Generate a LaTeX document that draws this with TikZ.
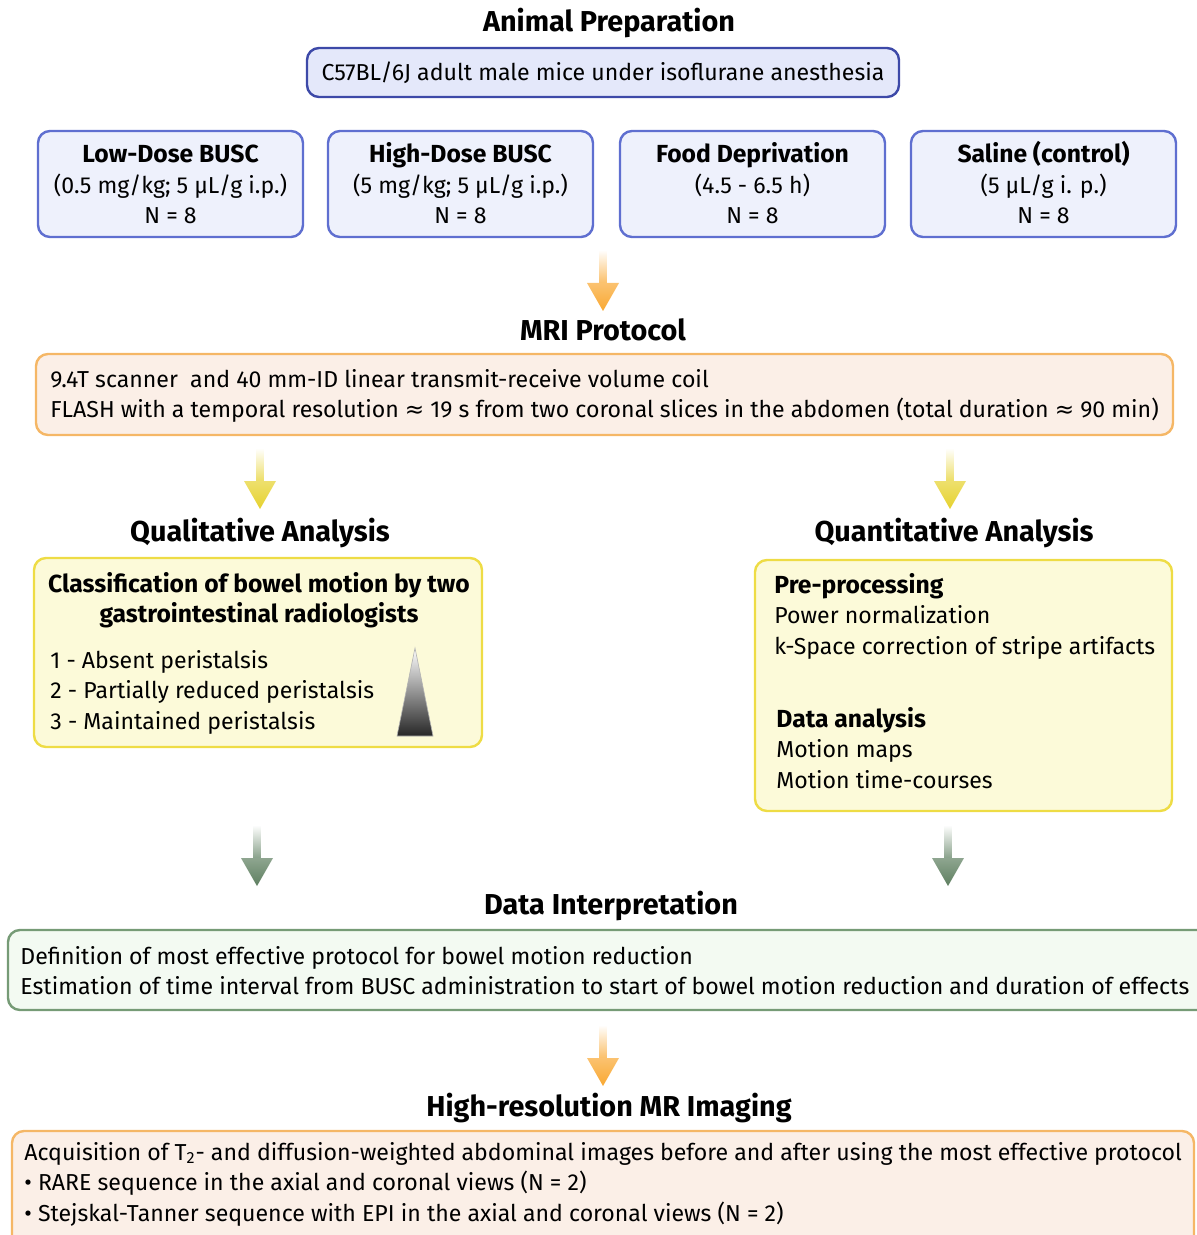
\documentclass[tikz,border=0pt]{standalone}
\usepackage{fontspec}
\setmainfont{Fira Sans}
\newfontfamily\symfont{DejaVu Sans}
\usetikzlibrary{fit,positioning}
\definecolor{topedge}{HTML}{3D49A8}
\definecolor{topfill}{HTML}{E4E8FA}
\definecolor{grpedge}{HTML}{5F6FD0}
\definecolor{grpfill}{HTML}{EEF1FC}
\definecolor{oredge}{HTML}{F5B766}
\definecolor{orfill}{HTML}{FBEFE7}
\definecolor{yeedge}{HTML}{EEDC45}
\definecolor{yefill}{HTML}{FCFAD9}
\definecolor{gredge}{HTML}{769B76}
\definecolor{grfill}{HTML}{F3FAF2}
\definecolor{arrorange}{HTML}{F9A832}
\definecolor{arryellow}{HTML}{E6D22E}
\definecolor{arrgreen}{HTML}{5E7F60}
\newcommand{\apx}{{\symfont\char"2248}}
\newcommand{\boldsub}[1]{{\bfseries\fontsize{12.35}{15.3}\selectfont #1}}
\tikzset{
  box/.style={draw, line width=1.2pt, rounded corners=6pt, inner sep=0pt},
  heading/.style={font=\fontsize{14.4}{15}\selectfont\bfseries, anchor=base, inner sep=0pt},
  body/.style={font=\fontsize{11.55}{15.3}\selectfont, inner sep=0pt},
}
\begin{document}
\begin{tikzpicture}[x=0.5pt,y=-0.5pt]
\useasboundingbox (0,0) rectangle (1196,1235);
\node[heading] (hanimal) at (609,32) {Animal Preparation};
\node[box, draw=topedge, fill=topfill, fit={(307,48) (899,97)}] (mice) {};
\node[body] (micetxt) at (mice.center) {C57BL/6J adult male mice under isoflurane anesthesia};

\foreach \n/\xa/\t/\d in {low/38/Low-Dose BUSC/{(0.5 mg/kg; 5 µL/g i.p.)},
                          high/328/High-Dose BUSC/{(5 mg/kg; 5 µL/g i.p.)},
                          food/620/Food Deprivation/{(4.5 - 6.5 h)},
                          saline/911/Saline (control)/{(5 µL/g i. p.)}}{
  \node[box, draw=grpedge, fill=grpfill, fit={(\xa,131) (\xa+265,237)}] (\n) {};
  \node[body] (\n txt) at ([yshift=-1.5pt]\n.center) {\begin{tabular}{@{}c@{}}\boldsub{\t}\\\d\\N = 8\end{tabular}};
}

\node[heading] (hmri) at (603,341) {MRI Protocol};
\node[box, draw=oredge, fill=orfill, fit={(36,354) (1173,435)}] (mri) {};
\node[body, anchor=base west] (mritxt) at (50,387) {\begin{tabular}[t]{@{}l@{}}9.4T scanner\ \ and 40 mm-ID linear transmit-receive volume coil\\FLASH with a temporal resolution \apx{} 19 s from two coronal slices in the abdomen (total duration \apx{} 90 min)\end{tabular}};

\node[heading] (hqual) at (260,541) {Qualitative Analysis};
\node[heading] (hquan) at (954,541) {Quantitative Analysis};
\node[box, draw=yeedge, fill=yefill, fit={(34,558) (482,747)}] (qual) {};
\node[body, anchor=base] (qualhead) at (259,592) {\begin{tabular}[t]{@{}c@{}}\boldsub{Classification of bowel motion by two}\\\boldsub{gastrointestinal radiologists}\end{tabular}};
\node[body, anchor=base west] (quallist) at (50,668) {\begin{tabular}[t]{@{}l@{}}1 - Absent peristalsis\\2 - Partially reduced peristalsis\\3 - Maintained peristalsis\end{tabular}};
\shade[top color=white, bottom color=black!85, draw=gray!60, line width=0.3pt] (415,648) -- (433,736) -- (397,736) -- cycle;

\node[box, draw=yeedge, fill=yefill, fit={(755,560) (1172,811)}] (quan) {};
\node[body, anchor=base west] (pre) at (774,593) {\begin{tabular}[t]{@{}l@{}}\boldsub{Pre-processing}\\Power normalization\\k-Space correction of stripe artifacts\end{tabular}};
\node[body, anchor=base west] (ana) at (776,727) {\begin{tabular}[t]{@{}l@{}}\boldsub{Data analysis}\\Motion maps\\Motion time-courses\end{tabular}};

\node[heading] (hdata) at (611,914) {Data Interpretation};
\node[box, draw=gredge, fill=grfill, fit={(8,930) (1210,1010)}] (data) {};
\node[body, anchor=base west] (datatxt) at (20,964) {\begin{tabular}[t]{@{}l@{}}Definition of most effective protocol for bowel motion reduction\\Estimation of time interval from BUSC administration to start of bowel motion reduction and duration of effects\end{tabular}};

\node[heading] (hhr) at (609,1116) {High-resolution MR Imaging};
\node[box, draw=oredge, fill=orfill, fit={(12,1131) (1194,1260)}] (hr) {};
\node[body, anchor=base west] (hrtxt) at (24,1160) {\begin{tabular}[t]{@{}l@{}}Acquisition of T\textsubscript{2}- and diffusion-weighted abdominal images before and after using the most effective protocol\\• RARE sequence in the axial and coronal views (N = 2)\\• Stejskal-Tanner sequence with EPI in the axial and coronal views (N = 2)\end{tabular}};

\foreach \x/\y/\c in {603/250/arrorange, 260/448/arryellow, 950/448/arryellow,
                      257/825/arrgreen, 948/825/arrgreen, 603/1025/arrorange}{
  \shade[top color=white, bottom color=\c!75] (\x-3.5,\y) rectangle (\x+3.5,\y+34);
  \shade[top color=\c!70, bottom color=\c] (\x-16,\y+33) -- (\x+16,\y+33) -- (\x,\y+61) -- cycle;
}
\end{tikzpicture}
\end{document}
